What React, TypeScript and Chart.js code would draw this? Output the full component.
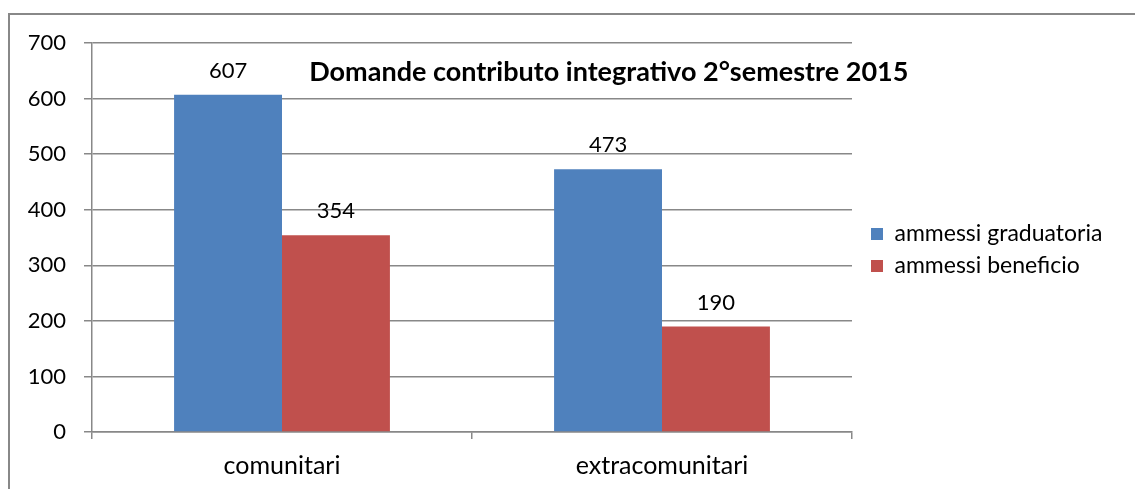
import React, { useEffect, useRef } from "react";
import { Chart, registerables } from "chart.js";

Chart.register(...registerables);

const categories = ["comunitari", "extracomunitari"];
const seriesNames = ["ammessi graduatoria", "ammessi beneficio"];
const graduatoria = [607, 473];
const beneficio = [354, 190];
const yMin = 0;
const yMax = 700;
const yStep = 100;
const chartTitle = "Domande contributo integrativo 2°semestre 2015";

const FONT = "Lato, 'Liberation Sans', sans-serif";
const GRID = "#888888";
const BLUE = "#4F81BD";
const RED = "#C0504D";
const W = 1135;
const H = 489;
const TARGET_RIGHT = 852;

const framePlugin = {
  id: "frame",
  beforeDraw(chart: any) {
    const ctx = chart.ctx;
    ctx.save();
    ctx.strokeStyle = GRID;
    ctx.lineWidth = 2;
    ctx.beginPath();
    ctx.moveTo(9, chart.height);
    ctx.lineTo(9, 14);
    ctx.lineTo(chart.width, 14);
    ctx.stroke();
    ctx.restore();
  },
};

const valueLabels = {
  id: "valueLabels",
  afterDatasetsDraw(chart: any) {
    const ctx = chart.ctx;
    ctx.save();
    ctx.font = `22px ${FONT}`;
    ctx.fillStyle = "#000";
    ctx.textAlign = "center";
    ctx.textBaseline = "middle";
    chart.data.datasets.forEach((ds: any, i: number) => {
      const meta = chart.getDatasetMeta(i);
      meta.data.forEach((el: any, j: number) => {
        ctx.fillText(String(ds.data[j]), el.x, el.y - 24);
      });
    });
    ctx.restore();
  },
};

const innerTitle = {
  id: "innerTitle",
  afterDraw(chart: any) {
    const ctx = chart.ctx;
    const a = chart.chartArea;
    ctx.save();
    ctx.font = `bold 27px ${FONT}`;
    ctx.fillStyle = "#000";
    ctx.textAlign = "center";
    ctx.textBaseline = "middle";
    ctx.fillText(chartTitle, a.left + (a.right - a.left) * 0.68, a.top + 29);
    ctx.restore();
  },
};

export default function App() {
  const ref = useRef<HTMLCanvasElement | null>(null);

  useEffect(() => {
    if (!ref.current) return;
    const chart = new Chart(ref.current, {
      type: "bar",
      data: {
        labels: categories,
        datasets: [
          { label: seriesNames[0], data: graduatoria, backgroundColor: BLUE, categoryPercentage: 0.568, barPercentage: 1 },
          { label: seriesNames[1], data: beneficio, backgroundColor: RED, categoryPercentage: 0.568, barPercentage: 1 },
        ],
      },
      options: {
        responsive: false,
        animation: false,
        layout: { padding: { top: 43, left: 0, bottom: 0, right: 20 } },
        plugins: {
          title: { display: false },
          tooltip: { enabled: false },
          legend: {
            position: "right",
            fullSize: false,
            maxWidth: 320,
            title: { display: true, text: " ", font: { size: 1, lineHeight: 1 }, padding: { top: 12, bottom: 12 } },
            labels: {
              boxWidth: 12,
              boxHeight: 12,
              padding: 9,
              color: "#000",
              font: { family: FONT, size: 23 },
            },
          },
        },
        scales: {
          x: {
            grid: { offset: true, drawOnChartArea: false, drawTicks: true, tickLength: 7, color: GRID, lineWidth: 1.5 },
            border: { display: true, color: GRID, width: 1.5 },
            ticks: { color: "#000", font: { family: FONT, size: 25 }, padding: 12 },
            afterFit: (s: any) => { s.height = 57; },
          },
          y: {
            min: yMin,
            max: yMax,
            ticks: { stepSize: yStep, color: "#000", font: { family: FONT, size: 22 }, padding: 18 },
            grid: { color: GRID, lineWidth: 1.5, tickLength: 8 },
            border: { display: true, color: GRID, width: 1.5 },
            afterFit: (s: any) => { s.width = 92; },
          },
          gap: {
            type: "linear",
            position: "right",
            display: true,
            grid: { display: false },
            border: { display: false },
            ticks: { display: false },
            afterFit: (s: any) => { s.width = 10; },
          },
        },
      } as any,
      plugins: [framePlugin, valueLabels, innerTitle],
    });
    // adjust right padding so the plot area ends where the reference's does
    for (let k = 0; k < 3; k++) {
      const delta = chart.chartArea.right - TARGET_RIGHT;
      if (Math.abs(delta) <= 0.5) break;
      (chart.options.layout as any).padding.right += delta;
      chart.update();
    }
    return () => chart.destroy();
  }, []);

  return (
    <div style={{ position: "absolute", left: 0, top: 0, width: W, height: H, background: "#fff" }}>
      <canvas ref={ref} width={W} height={H} style={{ display: "block" }} />
    </div>
  );
}
